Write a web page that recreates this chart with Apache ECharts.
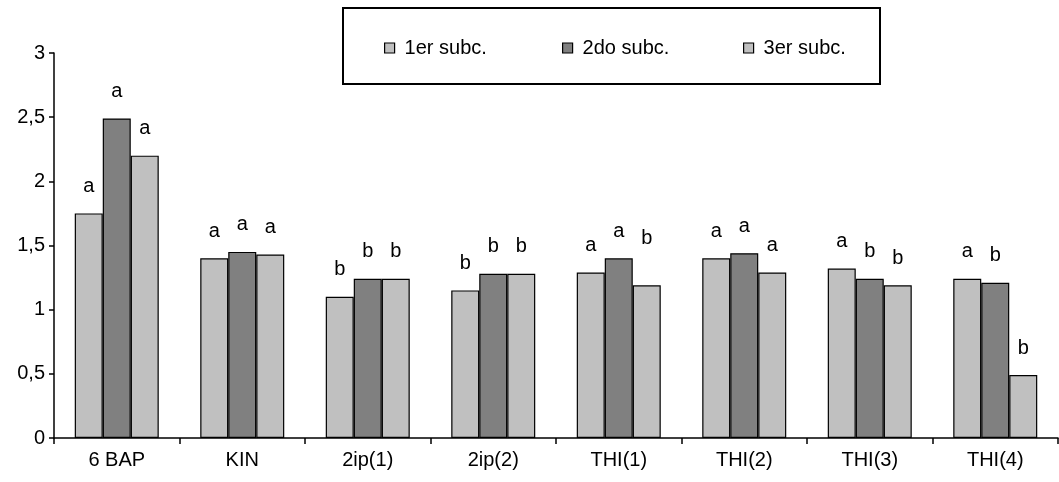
<!DOCTYPE html>
<html>
<head>
<meta charset="utf-8">
<script src="https://cdn.jsdelivr.net/npm/echarts@6/dist/echarts.min.js"></script>
<style>
html,body{margin:0;padding:0;background:#fff;}
#chart{width:1059px;height:482px;}
</style>
</head>
<body>
<div id="chart"></div>
<script>
const categories = ['6 BAP', 'KIN', '2ip(1)', '2ip(2)', 'THI(1)', 'THI(2)', 'THI(3)', 'THI(4)'];
const seriesNames = ['1er subc.', '2do subc.', '3er subc.'];
const values1 = [1.75, 1.40, 1.10, 1.15, 1.29, 1.40, 1.32, 1.24];
const values2 = [2.49, 1.45, 1.24, 1.28, 1.40, 1.44, 1.24, 1.21];
const values3 = [2.20, 1.43, 1.24, 1.28, 1.19, 1.29, 1.19, 0.49];
const letters1 = ['a', 'a', 'b', 'b', 'a', 'a', 'a', 'a'];
const letters2 = ['a', 'a', 'b', 'b', 'a', 'a', 'b', 'b'];
const letters3 = ['a', 'a', 'b', 'b', 'b', 'a', 'b', 'b'];
const yTicks = [0, 0.5, 1, 1.5, 2, 2.5, 3];

const FONT = "'Liberation Sans', Arial, sans-serif";
const FS = 20;
const colors = ['#C0C0C0', '#808080', '#C0C0C0'];
const allValues = [values1, values2, values3];
const allLetters = [letters1, letters2, letters3];

function buildData(si) {
  return allValues[si].map((v, i) => {
    const item = { value: v, letter: allLetters[si][i] };
    if (si === 2 && i === 4) item.label = { offset: [0, -20] };
    return item;
  });
}

const series = seriesNames.map((name, si) => ({
  name: name,
  type: 'bar',
  barWidth: 28,
  barGap: '0%',
  data: buildData(si),
  itemStyle: { color: colors[si], borderColor: '#000', borderWidth: 1.2 },
  label: {
    show: true,
    position: 'top',
    distance: 17,
    fontFamily: FONT,
    fontSize: FS,
    color: '#000',
    formatter: p => p.data.letter
  },
  emphasis: { disabled: true }
}));

const legendLefts = [379, 557, 738];
const legends = seriesNames.map((name, i) => ({
  data: [name],
  left: legendLefts[i],
  top: 33,
  orient: 'horizontal',
  icon: 'rect',
  itemWidth: 10,
  itemHeight: 10,
  itemStyle: { borderColor: '#000', borderWidth: 1.2 },
  textStyle: { fontFamily: FONT, fontSize: FS, color: '#000', padding: [0, 0, 0, 5] },
  selectedMode: false
}));

const chart = echarts.init(document.getElementById('chart'), null, { renderer: 'canvas' });
chart.setOption({
  animation: false,
  backgroundColor: '#fff',
  textStyle: { fontFamily: FONT },
  graphic: [{
    type: 'rect',
    shape: { x: 343, y: 8, width: 537, height: 76 },
    style: { fill: 'none', stroke: '#000', lineWidth: 2 },
    z: 0
  }],
  legend: legends,
  grid: { left: 54, right: 1, top: 53, bottom: 44, containLabel: false },
  xAxis: {
    type: 'category',
    data: categories,
    axisLine: { lineStyle: { color: '#000', width: 1.5 } },
    axisTick: { show: true, length: 6, lineStyle: { color: '#000', width: 1.5 } },
    axisLabel: { fontFamily: FONT, fontSize: FS, color: '#000', margin: 12 }
  },
  yAxis: {
    type: 'value',
    min: yTicks[0],
    max: yTicks[yTicks.length - 1],
    interval: yTicks[1] - yTicks[0],
    axisLine: { show: true, lineStyle: { color: '#000', width: 1.5 } },
    axisTick: { show: true, length: 5, lineStyle: { color: '#000', width: 1.5 } },
    splitLine: { show: false },
    axisLabel: {
      fontFamily: FONT, fontSize: FS, color: '#000', margin: 9,
      formatter: v => String(v).replace('.', ',')
    }
  },
  series: series
});
</script>
</body>
</html>
